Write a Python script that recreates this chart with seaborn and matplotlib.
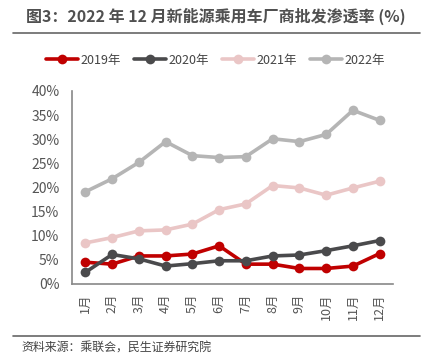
import pandas as pd
import numpy as np
import matplotlib
matplotlib.use('Agg')
import matplotlib.pyplot as plt
import seaborn as sns

# data (%)
months = ['1月', '2月', '3月', '4月', '5月', '6月', '7月', '8月', '9月', '10月', '11月', '12月']
years = ['2019年', '2020年', '2021年', '2022年']
y2019 = [4.5, 4.1, 5.8, 5.8, 6.2, 7.9, 4.1, 4.1, 3.2, 3.2, 3.7, 6.3]
y2020 = [2.4, 6.1, 5.2, 3.7, 4.2, 4.8, 4.8, 5.8, 6.0, 6.9, 7.9, 9.0]
y2021 = [8.5, 9.6, 11.0, 11.2, 12.4, 15.4, 16.6, 20.4, 19.9, 18.4, 19.9, 21.3]
y2022 = [19.1, 21.8, 25.2, 29.5, 26.6, 26.2, 26.4, 30.1, 29.5, 31.0, 36.0, 33.9]
colors = ['#C00000', '#4A4A4C', '#EAC6C6', '#B5B5B5']

sns.set_theme(style='white')
plt.rcParams['font.family'] = ['Noto Sans CJK SC', 'DejaVu Sans']

df = pd.DataFrame({'month': months * 4,
                   'x': list(range(12)) * 4,
                   'year': np.repeat(years, 12),
                   'value': y2019 + y2020 + y2021 + y2022})

fig = plt.figure(figsize=(4.31, 3.64), dpi=100)
ax = fig.add_axes([0.167, 0.22, 0.745, 0.53])

sns.lineplot(data=df, x='x', y='value', hue='year', palette=colors,
             marker='o', markersize=7, markeredgewidth=0, linewidth=2.6,
             ax=ax)

ax.set_xlim(-0.5, 11.5)
ax.set_ylim(0, 40)
ax.set_xticks(range(12))
ax.set_xticklabels(months, rotation=90, fontsize=9, color='#555555')
ax.set_yticks(range(0, 41, 5))
ax.set_yticklabels([f'{v}%' for v in range(0, 41, 5)], fontsize=10, color='#555555')
ax.tick_params(axis='x', length=0, pad=7)
ax.tick_params(axis='y', length=0, pad=9)
ax.set_xlabel('')
ax.set_ylabel('')
for s in ['top', 'right']:
    ax.spines[s].set_visible(False)
for s in ['left', 'bottom']:
    ax.spines[s].set_color('#888888')
    ax.spines[s].set_linewidth(1.2)

handles, labels = ax.get_legend_handles_labels()
ax.legend(handles, labels, ncol=4, frameon=False, fontsize=9,
          loc='center', bbox_to_anchor=(0.5, 0.835), bbox_transform=fig.transFigure,
          handlelength=2.6, handletextpad=0.2, columnspacing=1.0,
          labelcolor='#444444')

fig.text(0.5, 0.955, '图3：2022 年 12 月新能源乘用车厂商批发渗透率 (%)', ha='center', va='center',
         fontsize=11.5, fontweight='bold', color='#505050')
fig.add_artist(plt.Line2D([0.03, 0.975], [0.908, 0.908], color='#666666', linewidth=1.2))
fig.add_artist(plt.Line2D([0.03, 0.975], [0.077, 0.077], color='#666666', linewidth=1.2))
fig.text(0.05, 0.043, '资料来源：乘联会，民生证券研究院', ha='left', va='center',
         fontsize=8.6, color='#444444')

plt.savefig('out.png', dpi=100)
